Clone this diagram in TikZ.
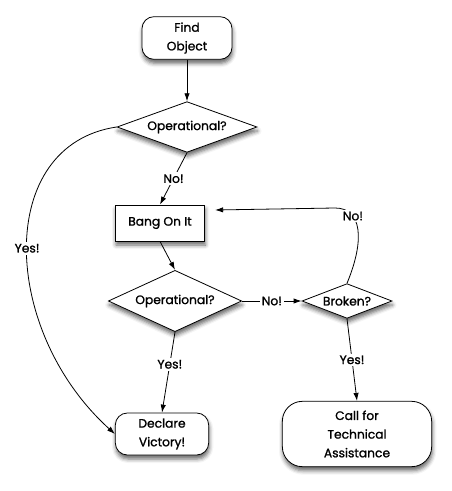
\documentclass[tikz,border=0pt]{standalone}
\usepackage{fontspec}
\setmainfont{Poppins}[FakeBold=1.2, AutoFakeBold=1.2]
\usetikzlibrary{arrows.meta,shapes.geometric,shadows.blur}

\begin{document}
\begin{tikzpicture}[>={Latex[length=6pt,width=4pt]}, x=0.75pt, y=-0.75pt,
		every node/.style={font=\fontsize{9.2}{14}\selectfont\bfseries, align=center, text=black},
		box/.style={draw, line width=0.6pt, fill=white, inner sep=1pt,
			blur shadow={shadow xshift=0.5pt, shadow yshift=-3pt, shadow blur radius=3pt, shadow opacity=60}},
		endbox/.style={box, rounded corners=9pt},
		ask/.style={box, diamond, inner sep=0pt},
		lbl/.style={fill=white, inner sep=1.5pt},
		arr/.style={->, line width=0.6pt}]
		\useasboundingbox (0,0) rectangle (451,491);
		% boxes
		\node[endbox, minimum width=67.5pt, minimum height=32pt] (find) at (187,38) {Find\\Object};
		\node[ask, aspect=2.7, minimum width=105pt, minimum height=38pt] (op1) at (187,127) {Operational?};
		\node[box, minimum width=67pt, minimum height=27pt] (bang) at (160,223) {Bang On It};
		\node[ask, aspect=2.2, minimum width=100pt, minimum height=46pt] (op2) at (175,301) {Operational?};
		\node[ask, aspect=2.6, minimum width=67.5pt, minimum height=26pt] (broken) at (347,301) {Broken?};
		\node[endbox, minimum width=70pt, minimum height=31.5pt] (declare) at (162,434) {Declare\\Victory!};
		\node[endbox, rounded corners=15pt, minimum width=112pt, minimum height=49pt] (call) at (357,434) {Call for\\Technical\\Assistance};
		% connectors
		\draw[arr] (find) -- (op1);
		\draw[arr] (op1.south) -- node[lbl] {No!} (bang.north);
		\draw[arr] (bang.south) -- (op2.north);
		\draw[arr] (op2.east) -- node[lbl] {No!} (broken.west);
		\draw[arr] (op2.south) -- node[lbl, pos=0.4] {Yes!} (declare.north);
		\draw[arr] (broken.south) -- node[lbl] {Yes!} (call.north);
		\draw[arr] (broken.north) .. controls (365,240) and (362,208) .. node[lbl, pos=0.7] {No!} (335,208) -- ([shift={(10,-13)}]bang.east);
		\draw[arr] (op1.west) .. controls (-5,145) and (0,330) .. node[lbl] {Yes!} (declare.west);
	\end{tikzpicture}
\end{document}
